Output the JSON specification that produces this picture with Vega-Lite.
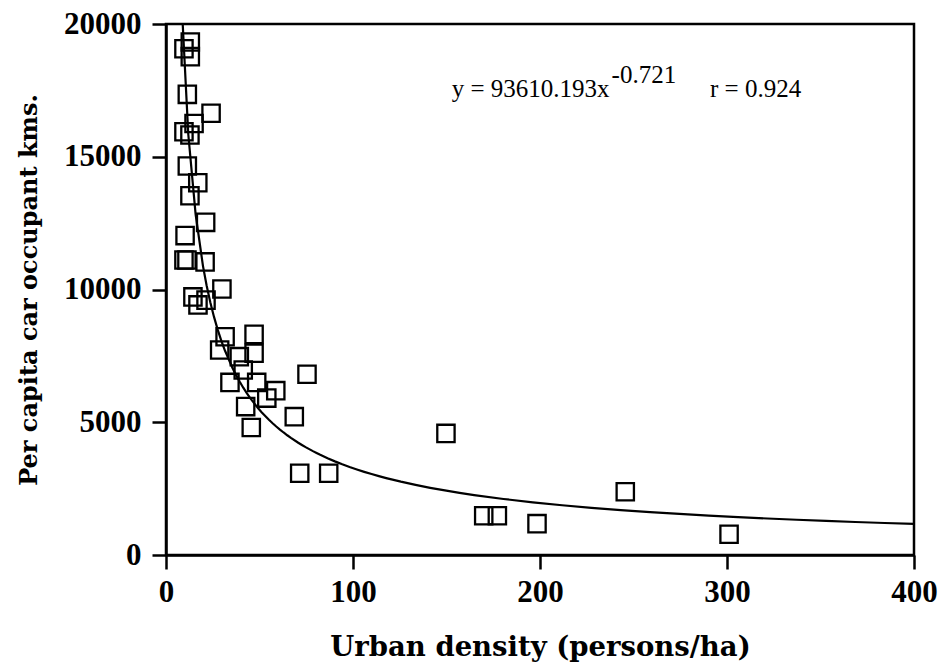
{
  "$schema": "https://vega.github.io/schema/vega-lite/v6.json",
  "width": 748,
  "height": 531,
  "autosize": {"type": "none"},
  "padding": {"left": 166, "top": 24, "right": 25, "bottom": 112},
  "background": "white",
  "config": {
    "view": {"stroke": "black", "strokeWidth": 2.5},
    "axis": {
      "grid": false,
      "domainColor": "black",
      "domainWidth": 2.5,
      "tickColor": "black",
      "tickWidth": 2.5,
      "tickSize": 14,
      "labelFlush": false,
      "labelFont": "Liberation Serif",
      "labelFontWeight": "bold",
      "labelFontSize": 31,
      "labelColor": "black",
      "titleFont": "DejaVu Serif",
      "titleFontWeight": "bold",
      "titleFontSize": 24,
      "titleColor": "black"
    }
  },
  "datasets": {
    "cities": [
      {"density": 9.6, "km": 19070},
      {"density": 13.0, "km": 19320},
      {"density": 13.0, "km": 18770},
      {"density": 11.4, "km": 17350},
      {"density": 24.1, "km": 16640},
      {"density": 15.0, "km": 16250},
      {"density": 9.6, "km": 15940},
      {"density": 12.8, "km": 15820},
      {"density": 11.4, "km": 14650},
      {"density": 17.0, "km": 14020},
      {"density": 12.8, "km": 13530},
      {"density": 21.2, "km": 12530},
      {"density": 10.2, "km": 12030},
      {"density": 9.6, "km": 11110},
      {"density": 11.2, "km": 11110},
      {"density": 20.9, "km": 11040},
      {"density": 29.9, "km": 10020},
      {"density": 14.4, "km": 9720},
      {"density": 17.1, "km": 9420},
      {"density": 21.4, "km": 9600},
      {"density": 31.6, "km": 8220},
      {"density": 47.1, "km": 8310},
      {"density": 28.7, "km": 7720},
      {"density": 39.2, "km": 7470},
      {"density": 47.1, "km": 7600},
      {"density": 41.3, "km": 6970},
      {"density": 34.2, "km": 6500},
      {"density": 48.5, "km": 6500},
      {"density": 75.4, "km": 6810},
      {"density": 53.9, "km": 5910},
      {"density": 58.7, "km": 6190},
      {"density": 42.6, "km": 5590},
      {"density": 68.6, "km": 5210},
      {"density": 45.6, "km": 4800},
      {"density": 149.7, "km": 4580},
      {"density": 71.5, "km": 3080},
      {"density": 87.0, "km": 3080},
      {"density": 169.9, "km": 1480},
      {"density": 177.2, "km": 1480},
      {"density": 198.4, "km": 1180},
      {"density": 245.6, "km": 2380},
      {"density": 301.1, "km": 780}
    ],
    "notes": [
      {"label": "y = 93610.193x", "part": "main"},
      {"label": "-0.721", "part": "exponent"},
      {"label": "r = 0.924", "part": "r"}
    ]
  },
  "layer": [
    {
      "data": {"name": "cities"},
      "mark": {"type": "point", "shape": "square", "size": 300, "filled": false, "stroke": "black", "strokeWidth": 2.3, "opacity": 1},
      "encoding": {
        "x": {
          "field": "density",
          "type": "quantitative",
          "scale": {"domain": [0, 400], "nice": false},
          "axis": {"values": [0, 100, 200, 300, 400], "labelPadding": 8, "title": "Urban density (persons/ha)", "titleFontSize": 27.5, "titlePadding": 26}
        },
        "y": {
          "field": "km",
          "type": "quantitative",
          "scale": {"domain": [0, 20000], "nice": false},
          "axis": {"values": [0, 5000, 10000, 15000, 20000], "format": "d", "labelPadding": 11, "title": "Per capita car occupant kms.", "titlePadding": 22}
        }
      }
    },
    {
      "data": {"name": "cities"},
      "transform": [{"regression": "km", "on": "density", "method": "pow", "extent": [8, 400]}],
      "mark": {"type": "line", "color": "black", "strokeWidth": 2.2, "clip": true},
      "encoding": {
        "x": {"field": "density", "type": "quantitative"},
        "y": {"field": "km", "type": "quantitative"}
      }
    },
    {
      "data": {"name": "notes"},
      "transform": [{"filter": "datum.part === 'main'"}],
      "mark": {"type": "text", "font": "Liberation Serif", "fontSize": 25, "align": "left", "baseline": "alphabetic", "color": "black"},
      "encoding": {"text": {"field": "label"}, "x": {"datum": 152.8}, "y": {"datum": 17262}}
    },
    {
      "data": {"name": "notes"},
      "transform": [{"filter": "datum.part === 'exponent'"}],
      "mark": {"type": "text", "font": "Liberation Serif", "fontSize": 25, "align": "left", "baseline": "alphabetic", "color": "black"},
      "encoding": {"text": {"field": "label"}, "x": {"datum": 238.3}, "y": {"datum": 17789}}
    },
    {
      "data": {"name": "notes"},
      "transform": [{"filter": "datum.part === 'r'"}],
      "mark": {"type": "text", "font": "Liberation Serif", "fontSize": 25, "align": "left", "baseline": "alphabetic", "color": "black"},
      "encoding": {"text": {"field": "label"}, "x": {"datum": 290.9}, "y": {"datum": 17262}}
    }
  ]
}
